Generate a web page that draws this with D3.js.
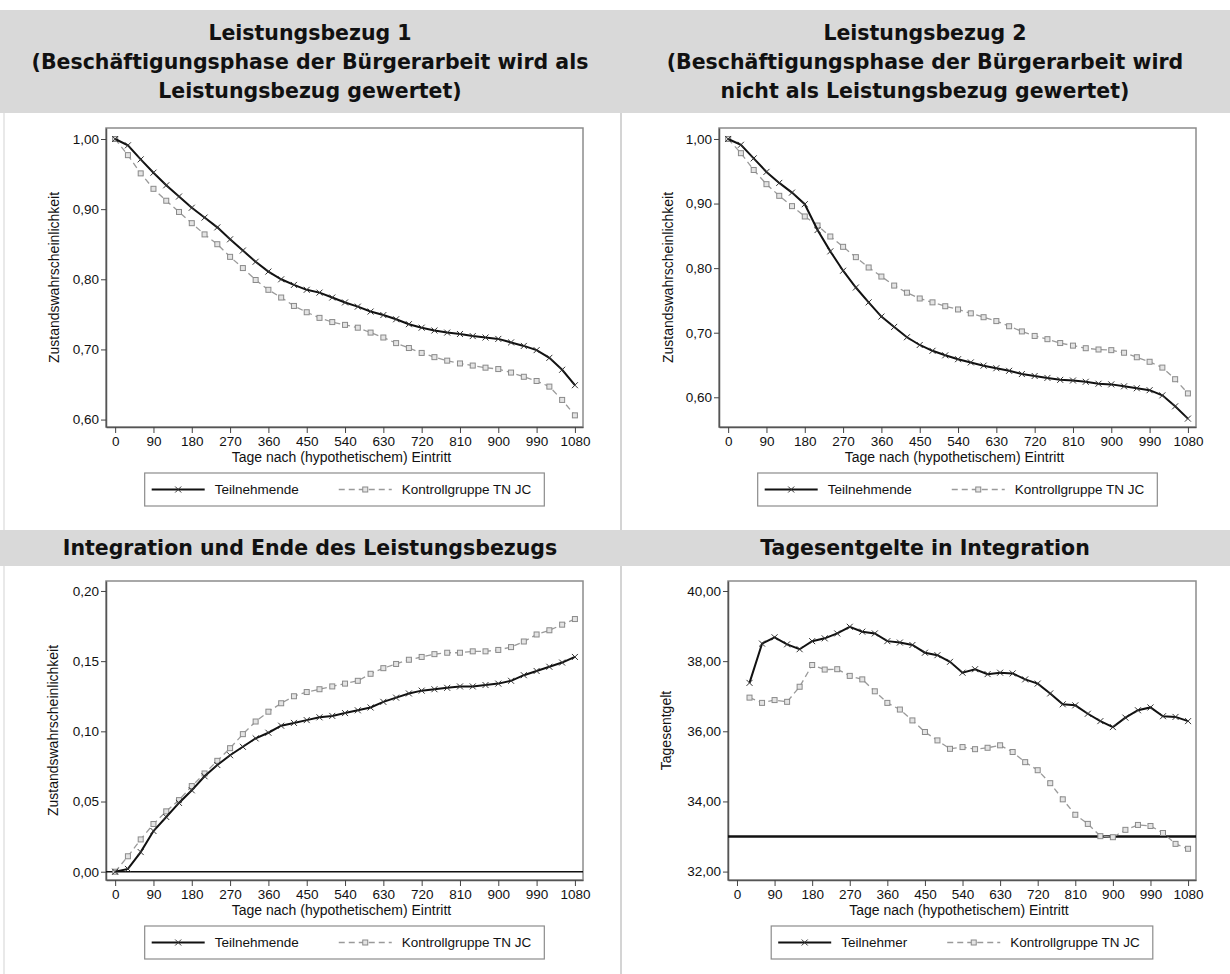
<!DOCTYPE html>
<html>
<head>
<meta charset="utf-8">
<script src="https://cdn.jsdelivr.net/npm/d3@7/dist/d3.min.js"></script>
<style>
  body { margin: 0; background: #fff; }
  text { font-family: "Liberation Sans", Arial, sans-serif; }
  .head { font-family: "DejaVu Sans", Verdana, sans-serif; font-weight: bold; }
</style>
</head>
<body>
<svg id="chart" width="1230" height="974"></svg>
<script>
// days after (hypothetical) entry
const days = [0, 30, 60, 90, 120, 150, 180, 210, 240, 270, 300, 330, 360, 390, 420, 450, 480, 510, 540,
  570, 600, 630, 660, 690, 720, 750, 780, 810, 840, 870, 900, 930, 960, 990, 1020, 1050, 1080];
const daysWage = [30, 60, 90, 120, 150, 180, 210, 240, 270, 300, 330, 360, 390, 420, 450, 480, 510, 540,
  570, 600, 630, 660, 690, 720, 750, 780, 810, 840, 870, 900, 930, 960, 990, 1020, 1050, 1080];

// Leistungsbezug 1
const lb1Teil = [1.000, 0.991, 0.971, 0.952, 0.934, 0.918, 0.902, 0.888, 0.874, 0.857, 0.841, 0.825, 0.811,
  0.800, 0.792, 0.785, 0.781, 0.774, 0.767, 0.761, 0.754, 0.749, 0.743, 0.736, 0.731, 0.727, 0.724, 0.722,
  0.719, 0.717, 0.715, 0.710, 0.705, 0.699, 0.688, 0.671, 0.649];
const lb1Kontr = [1.000, 0.977, 0.951, 0.929, 0.912, 0.896, 0.880, 0.864, 0.850, 0.832, 0.816, 0.799, 0.785,
  0.774, 0.762, 0.753, 0.745, 0.739, 0.735, 0.731, 0.724, 0.717, 0.709, 0.702, 0.695, 0.689, 0.684, 0.680,
  0.677, 0.674, 0.672, 0.667, 0.661, 0.655, 0.647, 0.628, 0.606];

// Leistungsbezug 2
const lb2Teil = [1.000, 0.991, 0.970, 0.949, 0.932, 0.917, 0.899, 0.859, 0.826, 0.796, 0.770, 0.747, 0.725,
  0.709, 0.693, 0.681, 0.672, 0.665, 0.659, 0.654, 0.649, 0.645, 0.641, 0.636, 0.633, 0.630, 0.627, 0.626,
  0.624, 0.621, 0.620, 0.617, 0.614, 0.611, 0.603, 0.586, 0.567];
const lb2Kontr = [1.000, 0.978, 0.952, 0.930, 0.912, 0.896, 0.880, 0.866, 0.849, 0.833, 0.817, 0.801, 0.787,
  0.773, 0.762, 0.753, 0.747, 0.741, 0.736, 0.730, 0.724, 0.718, 0.710, 0.702, 0.695, 0.690, 0.684, 0.680,
  0.676, 0.674, 0.673, 0.669, 0.662, 0.655, 0.646, 0.628, 0.606];

// Integration und Ende des Leistungsbezugs
const intTeil = [0.000, 0.002, 0.014, 0.029, 0.039, 0.049, 0.058, 0.068, 0.076, 0.083, 0.089, 0.095, 0.099,
  0.104, 0.106, 0.108, 0.110, 0.111, 0.113, 0.115, 0.117, 0.121, 0.124, 0.127, 0.129, 0.130, 0.131, 0.132,
  0.132, 0.133, 0.134, 0.136, 0.140, 0.143, 0.146, 0.149, 0.153];
const intKontr = [0.000, 0.011, 0.023, 0.034, 0.043, 0.051, 0.061, 0.070, 0.079, 0.088, 0.098, 0.107, 0.114,
  0.120, 0.125, 0.128, 0.130, 0.132, 0.134, 0.136, 0.141, 0.145, 0.148, 0.151, 0.153, 0.155, 0.156, 0.156,
  0.157, 0.157, 0.158, 0.160, 0.164, 0.169, 0.172, 0.176, 0.180];

// Tagesentgelte in Integration
const wageTeil = [37.38, 38.50, 38.68, 38.48, 38.34, 38.57, 38.65, 38.79, 38.98, 38.84, 38.79, 38.57, 38.53,
  38.46, 38.24, 38.17, 37.98, 37.67, 37.77, 37.63, 37.67, 37.65, 37.48, 37.36, 37.08, 36.77, 36.74, 36.50,
  36.29, 36.12, 36.39, 36.60, 36.68, 36.43, 36.41, 36.29];
const wageKontr = [36.96, 36.81, 36.89, 36.84, 37.27, 37.89, 37.76, 37.77, 37.58, 37.48, 37.14, 36.81, 36.62,
  36.31, 35.98, 35.74, 35.50, 35.55, 35.49, 35.53, 35.60, 35.41, 35.12, 34.89, 34.52, 34.06, 33.62, 33.36,
  33.01, 32.98, 33.19, 33.33, 33.30, 33.10, 32.79, 32.65];
const wageRef = 33.0;

const xTicks = [0, 90, 180, 270, 360, 450, 540, 630, 720, 810, 900, 990, 1080];
const probTicks1 = [0.6, 0.7, 0.8, 0.9, 1.0];
const probTicks3 = [0, 0.05, 0.1, 0.15, 0.2];
const wageTicks = [32, 34, 36, 38, 40];

const xTitle = "Tage nach (hypothetischem) Eintritt";
const kontrLabel = "Kontrollgruppe TN JC";

const de = d3.formatLocale({ decimal: ",", thousands: ".", grouping: [3], currency: ["", " €"] });
const fmt2 = de.format(".2f");

const svg = d3.select("#chart");

// header bands and cell borders
svg.append("rect").attr("x", 0).attr("y", 10).attr("width", 1230).attr("height", 103).attr("fill", "#d9d9d9");
svg.append("rect").attr("x", 0).attr("y", 530).attr("width", 1230).attr("height", 36).attr("fill", "#d9d9d9");
[[113, 530], [566, 974]].forEach(([a, b]) => {
  svg.append("line").attr("x1", 621).attr("x2", 621).attr("y1", a).attr("y2", b)
    .attr("stroke", "#d4d4d4").attr("stroke-width", 2);
  svg.append("line").attr("x1", 4).attr("x2", 4).attr("y1", a).attr("y2", b)
    .attr("stroke", "#e2e2e2").attr("stroke-width", 1.5);
});

const heads = [
  { cx: 310, y: [40, 69, 98], lines: ["Leistungsbezug 1", "(Beschäftigungsphase der Bürgerarbeit wird als", "Leistungsbezug gewertet)"] },
  { cx: 925, y: [40, 69, 98], lines: ["Leistungsbezug 2", "(Beschäftigungsphase der Bürgerarbeit wird", "nicht als Leistungsbezug gewertet)"] },
  { cx: 310, y: [555], lines: ["Integration und Ende des Leistungsbezugs"] },
  { cx: 925, y: [555], lines: ["Tagesentgelte in Integration"] }
];
heads.forEach(h => {
  h.lines.forEach((t, i) => {
    svg.append("text").attr("class", "head").attr("x", h.cx).attr("y", h.y[i])
      .attr("text-anchor", "middle").attr("font-size", 20.5).attr("fill", "#111").text(t);
  });
});

const panels = [
  { frame: [106, 583, 128, 427], ydom: [0.5894, 1.0157], yticks: probTicks1, ytitle: "Zustandswahrscheinlichkeit",
    ytx: 54, x: days, solid: lb1Teil, dashed: lb1Kontr, solidLabel: "Teilnehmende", legY: 473, hline: null },
  { frame: [719, 1196, 128, 427], ydom: [0.554, 1.017], yticks: probTicks1, ytitle: "Zustandswahrscheinlichkeit",
    ytx: 668, x: days, solid: lb2Teil, dashed: lb2Kontr, solidLabel: "Teilnehmende", legY: 473, hline: null },
  { frame: [106, 583, 581, 880], ydom: [-0.0059, 0.2071], yticks: probTicks3, ytitle: "Zustandswahrscheinlichkeit",
    ytx: 53, x: days, solid: intTeil, dashed: intKontr, solidLabel: "Teilnehmende", legY: 926, hline: 0 },
  { frame: [728, 1196, 581, 880], ydom: [31.76, 40.285], yticks: wageTicks, ytitle: "Tagesentgelt",
    ytx: 666, x: daysWage, solid: wageTeil, dashed: wageKontr, solidLabel: "Teilnehmer", legY: 926, hline: wageRef }
];

function crossPath(s) {
  return `M${-s},${-s}L${s},${s}M${-s},${s}L${s},${-s}`;
}

panels.forEach(p => {
  const [x0, x1, y0, y1] = p.frame;
  const x = d3.scaleLinear().domain([-21.5, 1099]).range([x0, x1]);
  const y = d3.scaleLinear().domain(p.ydom).range([y1, y0]);
  const g = svg.append("g");

  g.append("rect").attr("x", x0).attr("y", y0).attr("width", x1 - x0).attr("height", y1 - y0)
    .attr("fill", "#fff").attr("stroke", "#8c8c8c").attr("stroke-width", 1.5);

  const ax = g.append("g").attr("transform", `translate(0,${y1})`)
    .call(d3.axisBottom(x).tickValues(xTicks).tickSize(6).tickSizeOuter(0).tickPadding(3).tickFormat(d3.format("d")));
  const ay = g.append("g").attr("transform", `translate(${x0},0)`)
    .call(d3.axisLeft(y).tickValues(p.yticks).tickSize(5).tickSizeOuter(0).tickPadding(2).tickFormat(fmt2));
  [ax, ay].forEach(a => {
    a.select(".domain").attr("stroke", "#555").attr("stroke-width", 1.5);
    a.selectAll(".tick line").attr("stroke", "#444");
    a.selectAll(".tick text").attr("font-size", 13.5).attr("fill", "#111")
      .attr("font-family", "'Liberation Sans', Arial, sans-serif");
  });

  g.append("text").attr("x", (x0 + x1) / 2 - 3).attr("y", y1 + 35).attr("text-anchor", "middle")
    .attr("font-size", 14).attr("fill", "#111").text(xTitle);
  g.append("text").attr("transform", `translate(${p.ytx},${(y0 + y1) / 2}) rotate(-90)`)
    .attr("text-anchor", "middle").attr("dy", "0.35em").attr("font-size", 14).attr("fill", "#111").text(p.ytitle);

  if (p.hline !== null) {
    g.append("line").attr("x1", x0).attr("x2", x1).attr("y1", y(p.hline)).attr("y2", y(p.hline))
      .attr("stroke", "#111").attr("stroke-width", p.hline === 0 ? 1.5 : 2.5);
  }

  const dashedPts = p.x.map((d, i) => [d, p.dashed[i]]);
  const solidPts = p.x.map((d, i) => [d, p.solid[i]]);
  const line = d3.line().x(d => x(d[0])).y(d => y(d[1]));

  g.append("path").attr("d", line(dashedPts)).attr("fill", "none")
    .attr("stroke", "#9a9a9a").attr("stroke-width", 1.3).attr("stroke-dasharray", "6,4");
  g.selectAll("rect.sq").data(dashedPts).enter().append("rect").attr("class", "sq")
    .attr("x", d => x(d[0]) - 2.5).attr("y", d => y(d[1]) - 2.5).attr("width", 5).attr("height", 5)
    .attr("fill", "#e4e4e4").attr("stroke", "#8a8a8a").attr("stroke-width", 1);

  g.append("path").attr("d", line(solidPts)).attr("fill", "none")
    .attr("stroke", "#111").attr("stroke-width", 2);
  g.selectAll("path.cx").data(solidPts).enter().append("path").attr("class", "cx")
    .attr("transform", d => `translate(${x(d[0])},${y(d[1])})`)
    .attr("d", crossPath(3)).attr("stroke", "#333").attr("stroke-width", 1);

  // legend
  const lg = g.append("g");
  const box = lg.append("rect").attr("y", p.legY).attr("height", 33)
    .attr("fill", "#fff").attr("stroke", "#8c8c8c").attr("stroke-width", 1.2);
  const cy = p.legY + 16.5;
  const t1 = lg.append("text").attr("y", cy).attr("dy", "0.35em").attr("font-size", 13.5).attr("fill", "#111").text(p.solidLabel);
  const t2 = lg.append("text").attr("y", cy).attr("dy", "0.35em").attr("font-size", 13.5).attr("fill", "#111").text(kontrLabel);
  const w1 = t1.node().getComputedTextLength();
  const w2 = t2.node().getComputedTextLength();
  const keyW = 53, pad = 7, gapTxt = 10, gapItem = 40;
  const total = pad + keyW + gapTxt + w1 + gapItem + keyW + gapTxt + w2 + pad + 6;
  const bx = (x0 + x1) / 2 - total / 2;
  box.attr("x", bx).attr("width", total);
  let cur = bx + pad;
  lg.append("line").attr("x1", cur).attr("x2", cur + keyW).attr("y1", cy).attr("y2", cy)
    .attr("stroke", "#111").attr("stroke-width", 2);
  lg.append("path").attr("transform", `translate(${cur + keyW / 2},${cy})`).attr("d", crossPath(3))
    .attr("stroke", "#333").attr("stroke-width", 1);
  cur += keyW + gapTxt;
  t1.attr("x", cur);
  cur += w1 + gapItem;
  lg.append("line").attr("x1", cur).attr("x2", cur + keyW).attr("y1", cy).attr("y2", cy)
    .attr("stroke", "#9a9a9a").attr("stroke-width", 1.3).attr("stroke-dasharray", "6,4");
  lg.append("rect").attr("x", cur + keyW / 2 - 2.5).attr("y", cy - 2.5).attr("width", 5).attr("height", 5)
    .attr("fill", "#e4e4e4").attr("stroke", "#8a8a8a");
  cur += keyW + gapTxt;
  t2.attr("x", cur);
});
</script>
</body>
</html>
